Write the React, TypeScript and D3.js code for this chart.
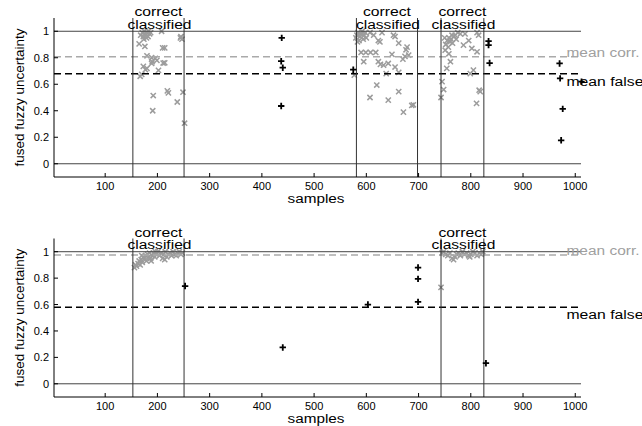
import React from "react";
import * as d3 from "d3";

// ---------- data ----------
const xTicks = [100, 200, 300, 400, 500, 600, 700, 800, 900, 1000];
const yTicks = [0, 0.2, 0.4, 0.6, 0.8, 1];

// top panel: correct classified (gray x) [sample, value]
const topCorrect: [number, number][] = [
  [168, 0.97], [171, 0.99], [173, 0.96], [175, 1.0], [176, 0.98], [178, 0.97], [180, 0.99],
  [182, 0.96], [183, 1.0], [185, 0.98], [187, 0.99], [174, 0.94], [179, 0.95],
  [208, 1.0], [244, 0.95], [247, 0.94], [245, 0.96],
  [165, 0.905], [176, 0.885], [210, 0.875], [214, 0.875],
  [180, 0.815], [189, 0.8], [196, 0.795], [199, 0.78],
  [211, 0.76], [214, 0.762], [173, 0.735], [190, 0.77], [189, 0.757],
  [177, 0.71], [180, 0.72], [202, 0.705], [167, 0.66], [170, 0.675],
  [219, 0.55], [221, 0.535], [249, 0.54], [192, 0.515], [238, 0.466], [191, 0.4], [252, 0.306],
  [580, 0.95], [582, 0.97], [584, 0.99], [586, 0.93], [588, 0.96], [590, 0.98], [592, 1.0],
  [594, 0.94], [596, 0.97], [598, 0.99], [600, 0.95], [583, 0.92],
  [607, 0.99], [614, 0.97], [623, 0.93], [626, 0.92], [630, 0.99], [652, 0.97], [655, 0.96],
  [662, 0.91], [678, 0.88], [674, 0.81], [681, 0.82], [670, 0.79], [676, 0.86],
  [590, 0.84], [599, 0.84], [608, 0.84], [618, 0.84], [649, 0.825],
  [595, 0.77], [623, 0.77], [627, 0.75], [633, 0.744], [642, 0.757], [655, 0.73], [662, 0.69],
  [638, 0.68], [577, 0.669], [620, 0.594], [662, 0.544], [607, 0.5], [642, 0.48],
  [687, 0.44], [690, 0.445], [671, 0.39],
  [770, 0.97], [755, 0.93], [758, 0.95], [762, 0.94], [765, 0.91], [752, 0.9], [760, 0.92],
  [768, 0.96], [775, 0.99], [780, 0.98], [789, 0.98], [796, 0.93], [786, 0.895], [802, 0.87],
  [812, 0.845], [812, 0.99], [815, 0.97], [751, 0.857], [758, 0.83], [761, 0.77], [754, 0.72],
  [805, 0.707], [799, 0.68], [745, 0.62], [748, 0.56], [818, 0.544], [816, 0.555], [743, 0.5],
  [811, 0.456], [750, 0.95], [757, 0.88], [764, 0.97], [772, 0.94],
];

// top panel: false classified (black +)
const topFalse: [number, number][] = [
  [438, 0.95], [437, 0.774], [440, 0.725], [437, 0.436], [575, 0.71],
  [834, 0.925], [834, 0.895], [836, 0.76],
  [970, 0.757], [971, 0.644], [1012, 0.62], [976, 0.414], [973, 0.177],
];

// bottom panel
const bottomCorrect: [number, number][] = [
  [156, 0.88], [158, 0.9], [160, 0.89], [163, 0.91], [165, 0.93], [167, 0.9], [169, 0.94],
  [171, 0.92], [173, 0.96], [175, 0.95], [177, 0.97], [179, 0.93], [181, 0.98], [183, 0.96],
  [185, 0.99], [187, 0.95], [190, 0.97], [192, 0.99], [195, 0.96], [198, 0.98], [201, 1.0],
  [204, 0.97], [207, 0.99], [210, 0.95], [212, 0.98], [215, 1.0], [218, 0.96], [221, 0.98],
  [224, 0.99], [227, 0.97], [230, 1.0], [233, 0.98], [236, 0.97], [239, 0.99], [242, 1.0],
  [245, 0.98], [248, 0.99], [214, 0.94], [188, 0.93], [170, 0.97], [196, 1.0],
  [745, 0.99], [748, 1.0], [752, 0.98], [756, 0.97], [760, 0.99], [764, 0.95], [767, 0.94],
  [770, 0.96], [773, 0.98], [776, 0.99], [780, 0.97], [784, 1.0], [788, 0.98], [792, 0.99],
  [796, 0.97], [800, 0.98], [804, 1.0], [808, 0.99], [812, 0.97], [816, 0.99], [820, 0.98],
  [823, 1.0], [798, 0.96], [743, 0.73],
];

const bottomFalse: [number, number][] = [
  [253, 0.74], [440, 0.275], [603, 0.6], [699, 0.88], [699, 0.794], [699, 0.62], [829, 0.156],
];

const topBounds = [153, 251, 581, 698, 743, 825];
const bottomBounds = [153, 251, 743, 825];
const topMeans = { corr: 0.807, fals: 0.679 };
const bottomMeans = { corr: 0.975, fals: 0.58 };

const FONT = "'Liberation Sans', Arial, Helvetica, sans-serif";
const GRAY = "#9c9c9c";

type PanelProps = {
  top: number;
  bottom: number;
  correct: [number, number][];
  falses: [number, number][];
  bounds: number[];
  means: { corr: number; fals: number };
};

function Panel({ top, bottom, correct, falses, bounds, means }: PanelProps) {
  const x = d3.scaleLinear().domain([2, 1011]).range([54, 581]);
  const y = d3.scaleLinear().domain([-0.1, 1.1]).range([bottom, top]);
  const x0 = x.range()[0];
  const x1 = x.range()[1];
  const pairs: [number, number][] = [];
  for (let i = 0; i < bounds.length; i += 2) pairs.push([bounds[i], bounds[i + 1]]);
  const cs = 2.6;
  const ps = 3.2;
  return (
    <g>
      {correct.map(([s, v], i) => {
        const cx = x(s), cy = y(v);
        return (
          <path key={"c" + i}
            d={`M${cx - cs},${cy - cs}L${cx + cs},${cy + cs}M${cx - cs},${cy + cs}L${cx + cs},${cy - cs}`}
            stroke={GRAY} strokeWidth={1.5} fill="none" />
        );
      })}
      {[0, 1].map((v) => (
        <line key={"h" + v} x1={x0} x2={x1} y1={y(v)} y2={y(v)} stroke="#444" strokeWidth={1} />
      ))}
      <line x1={x0} x2={x1} y1={y(means.corr)} y2={y(means.corr)} stroke="#aaaaaa" strokeWidth={1.6} strokeDasharray="7,4" />
      <line x1={x0} x2={x1} y1={y(means.fals)} y2={y(means.fals)} stroke="#000" strokeWidth={1.6} strokeDasharray="7,4" />
      {bounds.map((b, i) => (
        <line key={"v" + i} x1={x(b)} x2={x(b)} y1={top} y2={bottom} stroke="#333" strokeWidth={1} />
      ))}
      {falses.map(([s, v], i) => {
        const cx = x(s), cy = y(v);
        return (
          <path key={"f" + i}
            d={`M${cx - ps},${cy}L${cx + ps},${cy}M${cx},${cy - ps}L${cx},${cy + ps}`}
            stroke="#000" strokeWidth={1.8} fill="none" />
        );
      })}
      <line x1={x0} x2={x0} y1={top} y2={bottom} stroke="#000" strokeWidth={1} />
      <line x1={x0} x2={x1} y1={bottom} y2={bottom} stroke="#000" strokeWidth={1} />
      {yTicks.map((t) => (
        <g key={"yt" + t}>
          <line x1={x0} x2={x0 + 4} y1={y(t)} y2={y(t)} stroke="#000" />
          <text x={x0 - 5} y={y(t) + 4} textAnchor="end" fontSize={11} fontFamily={FONT}>{String(t)}</text>
        </g>
      ))}
      {xTicks.map((t) => (
        <g key={"xt" + t}>
          <line x1={x(t)} x2={x(t)} y1={bottom} y2={bottom - 4} stroke="#000" />
          <text x={x(t)} y={bottom + 13} textAnchor="middle" fontSize={11} fontFamily={FONT}>{String(t)}</text>
        </g>
      ))}
      <text x={316} y={bottom + 26} textAnchor="middle" fontSize={12} fontFamily={FONT} textLength={57} lengthAdjust="spacingAndGlyphs">samples</text>
      <text transform={`translate(24,${(top + bottom) / 2}) rotate(-90)`} textAnchor="middle" fontSize={13.5} fontFamily={FONT}>fused fuzzy uncertainty</text>
      {pairs.map(([a, b], i) => {
        const mx = (x(a) + x(b)) / 2;
        return (
          <g key={"lab" + i}>
            <text x={mx} y={y(1) - 15} textAnchor="middle" fontSize={12} fontFamily={FONT} textLength={48} lengthAdjust="spacingAndGlyphs">correct</text>
            <text x={mx + 1} y={y(1) - 2.5} textAnchor="middle" fontSize={12} fontFamily={FONT} textLength={64} lengthAdjust="spacingAndGlyphs">classified</text>
          </g>
        );
      })}
      <text x={566.5} y={y(means.corr)} fontSize={12} fontFamily={FONT} fill="#a0a0a0" textLength={73} lengthAdjust="spacingAndGlyphs">mean corr.</text>
      <text x={566.5} y={y(means.fals) + 12} fontSize={12} fontFamily={FONT} fill="#000" textLength={77} lengthAdjust="spacingAndGlyphs">mean false</text>
    </g>
  );
}

export default function App() {
  return (
    <svg width={642} height={426} style={{ position: "absolute", left: 0, top: 0, background: "#fff" }}>
      <rect width={642} height={426} fill="#fff" />
      <Panel top={18} bottom={177} correct={topCorrect} falses={topFalse} bounds={topBounds} means={topMeans} />
      <Panel top={238.5} bottom={397} correct={bottomCorrect} falses={bottomFalse} bounds={bottomBounds} means={bottomMeans} />
    </svg>
  );
}
